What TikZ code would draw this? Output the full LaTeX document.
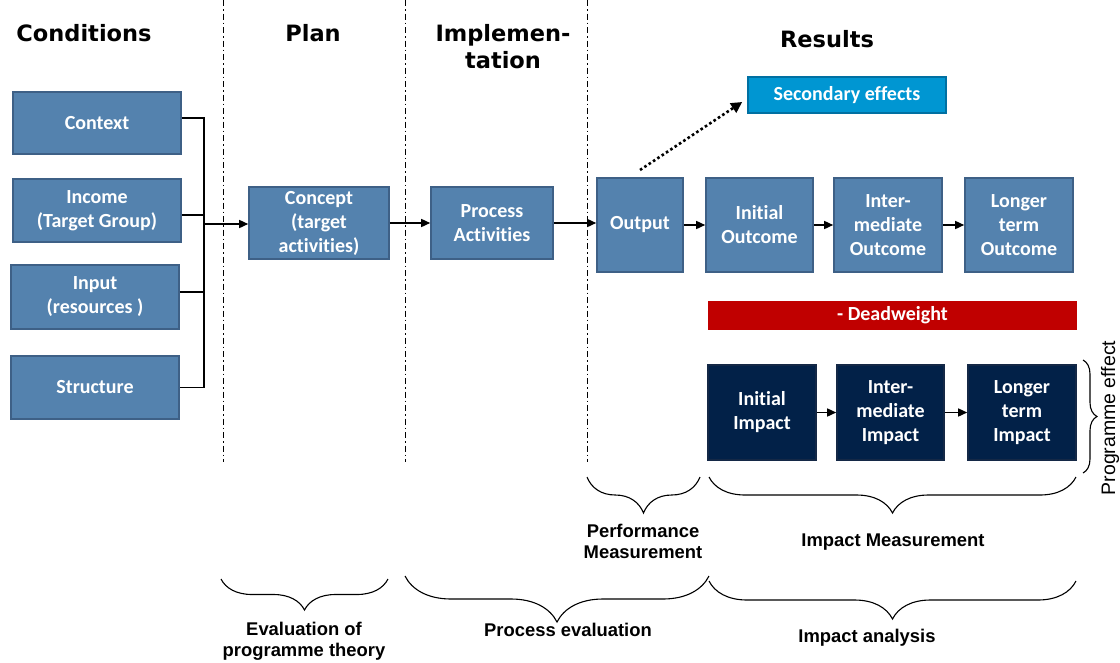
\documentclass[tikz,border=0pt]{standalone}
\usepackage{fontspec}
\setmainfont{Carlito}[Ligatures=NoCommon]
\newfontfamily\hdrfont{DejaVu Sans}
\newfontfamily\arialfont{Liberation Sans}
\usetikzlibrary{arrows.meta,decorations.pathreplacing}
\definecolor{boxfill}{RGB}{84,130,174}
\definecolor{boxline}{RGB}{62,96,134}
\definecolor{navy}{RGB}{2,33,72}
\definecolor{navyline}{RGB}{20,40,70}
\definecolor{secfill}{RGB}{0,150,210}
\definecolor{secline}{RGB}{0,112,162}
\definecolor{deadred}{RGB}{192,0,0}
\begin{document}
\begin{tikzpicture}[x=1pt,y=-1pt,
  box/.style={draw=boxline, fill=boxfill, line width=1.6pt, text=white,
    font=\bfseries\fontsize{20}{24}\selectfont, align=center, inner sep=0pt},
  navybox/.style={box, draw=navyline, fill=navy},
  secbox/.style={box, draw=secline, fill=secfill},
  redbar/.style={box, draw=deadred, fill=deadred},
  hdr/.style={font=\hdrfont\bfseries\fontsize{22.5}{27}\selectfont, align=center, inner sep=0pt},
  lbl/.style={font=\arialfont\bfseries\fontsize{18.4}{21}\selectfont, align=center, inner sep=0pt},
  arr/.style={line width=1.5pt, -{Triangle[length=9pt,width=8pt]}},
  conn/.style={line width=1.5pt},
  phase/.style={line width=1pt, dash pattern=on 6pt off 3pt on 1.5pt off 3pt},
  brc/.style={line width=1.1pt, decorate},
  dotarr/.style={line width=2.6pt, dash pattern=on 2.6pt off 2.6pt, -{Triangle[length=11pt,width=11pt]}}
]
\useasboundingbox (0,0) rectangle (1120,662);

% phase separators
\draw[phase] (223,0) -- (223,462);
\draw[phase] (405,0) -- (405,462);
\draw[phase] (587,0) -- (587,462);

% headers
\node[hdr] (hcond) at (84,33) {Conditions};
\node[hdr] (hplan) at (313,33) {Plan};
\node[hdr] (himpl) at (503,47) {Implemen-\\tation};
\node[hdr] (hres) at (827,39) {Results};

% condition boxes
\node[box, minimum width=168, minimum height=62] (context) at (97,123) {Context};
\node[box, minimum width=168, minimum height=63] (income) at (97,210.5) {Income\\(Target Group)};
\node[box, minimum width=168, minimum height=64] (input) at (95,297) {Input\\(resources )};
\node[box, minimum width=168, minimum height=63] (structure) at (95,387.5) {Structure};

% main chain
\node[box, minimum width=140, minimum height=72] (concept) at (319,223) {Concept\\(target\\activities)};
\node[box, minimum width=122, minimum height=72] (process) at (492,223) {Process\\Activities};
\node[box, minimum width=86, minimum height=94] (output) at (640,225) {Output};
\node[box, minimum width=107, minimum height=94] (io) at (759.5,225) {Initial\\Outcome};
\node[box, minimum width=108, minimum height=94] (imo) at (888,225) {Inter-\\mediate\\Outcome};
\node[box, minimum width=108, minimum height=94] (lto) at (1019,225) {Longer\\term\\Outcome};

\node[secbox, minimum width=198, minimum height=36] (sec) at (847,95) {Secondary effects};
\node[redbar, minimum width=367, minimum height=27] (dead) at (892.5,315.5) {- Deadweight};

\node[navybox, minimum width=108, minimum height=95] (ii) at (762,412.5) {Initial\\Impact};
\node[navybox, minimum width=107, minimum height=95] (imi) at (890.5,412.5) {Inter-\\mediate\\Impact};
\node[navybox, minimum width=108, minimum height=95] (lti) at (1022,412.5) {Longer\\term\\Impact};

% condition bracket
\coordinate (j) at (204,224);
\draw[conn] ([yshift=5pt]context.east) -- ([yshift=5pt]context.east -| j) -- (structure.east -| j) -- (structure.east);
\draw[conn] ([yshift=-4.5pt]income.east) -- ([yshift=-4.5pt]income.east -| j);
\draw[conn] ([yshift=5pt]input.east) -- ([yshift=5pt]input.east -| j);
\draw[arr] (j) -- (concept.west |- j);

% chain arrows
\draw[arr] (concept.east) -- (process.west);
\draw[arr] (process.east) -- (output.west |- process.east);
\draw[arr] (output.east) -- (io.west);
\draw[arr] (io.east) -- (imo.west);
\draw[arr] (imo.east) -- (lto.west);
\draw[arr] (ii.east) -- (imi.west);
\draw[arr] (imi.east) -- (lti.west);

% secondary effects dotted arrow
\coordinate (dstart) at (640,170);
\draw[dotarr] (dstart) -- ([xshift=-5pt,yshift=-7pt]sec.west);

% braces
\draw[brc, decoration={brace, mirror, amplitude=36pt}] (587,477) -- (700,477);
\draw[brc, decoration={brace, mirror, amplitude=36pt}] (709,477) -- (1076,477);
\draw[brc, decoration={brace, mirror, amplitude=31pt}] (221,579) -- (388,579);
\draw[brc, decoration={brace, mirror, amplitude=46pt}] (405,576) -- (709,576);
\draw[brc, decoration={brace, mirror, amplitude=38pt}] (709,581) -- (1076,581);
\draw[brc, decoration={brace, amplitude=14pt}] (1083,360) -- (1083,473);

% labels
\node[lbl] (lperf) at (643,541.5) {Performance\\Measurement};
\node[lbl] (limpm) at (893,542) {Impact Measurement};
\node[lbl] (leval) at (304,641) {Evaluation of\\programme theory};
\node[lbl] (lproc) at (568,630) {Process evaluation};
\node[lbl] (limpa) at (867,638) {Impact analysis};
\node[font=\arialfont\fontsize{19.5}{22}\selectfont, rotate=90, inner sep=0pt] (lprog) at (1110,418) {Programme effect};
\end{tikzpicture}
\end{document}
